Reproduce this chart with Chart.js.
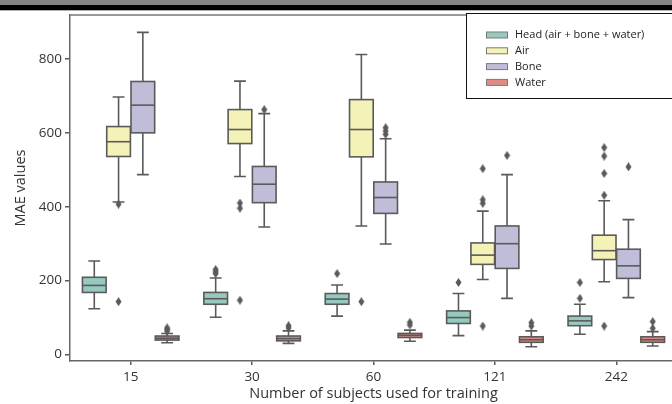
<!DOCTYPE html>
<html>
<head>
<meta charset="utf-8">
<script src="https://cdn.jsdelivr.net/npm/chart.js@4.4.0/dist/chart.umd.min.js"></script>
<style>
  html, body { margin: 0; padding: 0; background: #fff; }
  #wrap { position: relative; width: 672px; height: 404px; overflow: hidden; }
  #topbar { position: absolute; left: 0; top: 0; width: 672px; height: 5px; background: #848484; }
  #topline { position: absolute; left: 0; top: 5px; width: 672px; height: 5px; background: #000; border-bottom: 1px solid #b0b0b0; }
  canvas { position: absolute; left: 0; top: 0; }
</style>
</head>
<body>
<div id="wrap">
  <canvas id="chart" width="682" height="404"></canvas>
  <div id="topbar"></div>
  <div id="topline"></div>
</div>
<script>
// categories and series
const categories = ['15', '30', '60', '121', '242'];
const seriesNames = ['Head (air + bone + water)', 'Air', 'Bone', 'Water'];
const seriesColors = ['#96cac1', '#f4f2b6', '#c0bdd8', '#df8c84'];
const yTicks = [0, 200, 400, 600, 800];

// box stats per series: lower whisker, q1, median, q3, upper whisker
const headLo  = [124, 101, 104, 51, 55];
const headQ1  = [168, 136, 136, 84, 78];
const headMed = [187, 151, 150, 100, 91];
const headQ3  = [209, 168, 165, 118, 104];
const headHi  = [253, 207, 188, 165, 136];
const headOut = [[], [219, 224, 230], [219], [195], [152, 195]];

const airLo  = [413, 482, 348, 203, 197];
const airQ1  = [536, 571, 535, 244, 257];
const airMed = [576, 609, 609, 269, 281];
const airQ3  = [617, 663, 690, 302, 323];
const airHi  = [697, 740, 812, 388, 416];
const airOut = [[143, 407], [147, 396, 410], [143], [77, 409, 419, 503], [77, 431, 490, 537, 560]];

const boneLo  = [487, 345, 299, 152, 154];
const boneQ1  = [600, 411, 382, 233, 206];
const boneMed = [675, 461, 425, 300, 240];
const boneQ3  = [739, 509, 467, 348, 285];
const boneHi  = [872, 652, 584, 487, 365];
const boneOut = [[], [663], [596, 605, 614], [539], [508]];

const waterLo  = [32, 30, 36, 21, 23];
const waterQ1  = [39, 37, 46, 33, 33];
const waterMed = [44, 43, 52, 40, 40];
const waterQ3  = [50, 50, 57, 48, 48];
const waterHi  = [57, 64, 66, 64, 62];
const waterOut = [[63, 68, 72], [72, 78], [80, 87], [77, 86], [71, 89]];

const stats = [
  { lo: headLo, q1: headQ1, med: headMed, q3: headQ3, hi: headHi, out: headOut },
  { lo: airLo, q1: airQ1, med: airMed, q3: airQ3, hi: airHi, out: airOut },
  { lo: boneLo, q1: boneQ1, med: boneMed, q3: boneQ3, hi: boneHi, out: boneOut },
  { lo: waterLo, q1: waterQ1, med: waterMed, q3: waterQ3, hi: waterHi, out: waterOut }
];

const hueStep = 0.2;
const boxWidth = 0.195;
const edge = '#5a5a5a';

Chart.defaults.font.family = "'Open Sans', sans-serif";
Chart.defaults.color = '#333';

// thin diamond marker for fliers
const diamond = document.createElement('canvas');
diamond.width = 7; diamond.height = 9;
(function () {
  const c = diamond.getContext('2d');
  c.fillStyle = edge;
  c.beginPath();
  c.moveTo(3.5, 0); c.lineTo(6.5, 4.5); c.lineTo(3.5, 9); c.lineTo(0.5, 4.5);
  c.closePath(); c.fill();
})();

const flierData = [];
stats.forEach((s, j) => {
  s.out.forEach((vals, i) => {
    vals.forEach(v => flierData.push({ x: i + (j - 1.5) * hueStep, y: v }));
  });
});

const boxPlugin = {
  id: 'boxes',
  beforeDatasetsDraw(chart) {
    const { ctx, scales: { x, y } } = chart;
    const halfW = (x.getPixelForValue(boxWidth) - x.getPixelForValue(0)) / 2;
    ctx.save();
    ctx.lineWidth = 1.6;
    ctx.strokeStyle = edge;
    stats.forEach((s, j) => {
      categories.forEach((c, i) => {
        const cx = x.getPixelForValue(i + (j - 1.5) * hueStep);
        const pLo = y.getPixelForValue(s.lo[i]);
        const pQ1 = y.getPixelForValue(s.q1[i]);
        const pMed = y.getPixelForValue(s.med[i]);
        const pQ3 = y.getPixelForValue(s.q3[i]);
        const pHi = y.getPixelForValue(s.hi[i]);
        // whiskers
        ctx.beginPath();
        ctx.moveTo(cx, pQ1); ctx.lineTo(cx, pLo);
        ctx.moveTo(cx, pQ3); ctx.lineTo(cx, pHi);
        ctx.moveTo(cx - halfW / 2, pLo); ctx.lineTo(cx + halfW / 2, pLo);
        ctx.moveTo(cx - halfW / 2, pHi); ctx.lineTo(cx + halfW / 2, pHi);
        ctx.stroke();
        // box
        ctx.fillStyle = seriesColors[j];
        ctx.fillRect(cx - halfW, pQ3, halfW * 2, pQ1 - pQ3);
        ctx.strokeRect(cx - halfW, pQ3, halfW * 2, pQ1 - pQ3);
        // median
        ctx.beginPath();
        ctx.moveTo(cx - halfW, pMed); ctx.lineTo(cx + halfW, pMed);
        ctx.stroke();
      });
    });
    ctx.restore();
  },
  afterDraw(chart) {
    const { ctx, chartArea } = chart;
    ctx.save();
    // top spine
    ctx.strokeStyle = '#777';
    ctx.lineWidth = 1.5;
    ctx.beginPath();
    ctx.moveTo(chartArea.left, chartArea.top);
    ctx.lineTo(chartArea.right, chartArea.top);
    ctx.stroke();
    // legend box
    ctx.fillStyle = '#fff';
    ctx.fillRect(466.5, 13.5, 220, 85);
    ctx.strokeStyle = '#111';
    ctx.lineWidth = 1;
    ctx.strokeRect(466.5, 13.5, 220, 85);
    ctx.font = "11px 'Open Sans', sans-serif";
    ctx.textBaseline = 'middle';
    seriesNames.forEach((name, j) => {
      const ry = 35 + j * 15.8;
      ctx.fillStyle = seriesColors[j];
      ctx.fillRect(486.5, ry - 3, 21, 6);
      ctx.strokeStyle = '#7a7a7a';
      ctx.strokeRect(486.5, ry - 3, 21, 6);
      ctx.fillStyle = '#222';
      ctx.fillText(name, 515, ry);
    });
    ctx.restore();
  }
};

new Chart(document.getElementById('chart'), {
  type: 'scatter',
  data: {
    datasets: [{
      label: 'fliers',
      data: flierData,
      pointStyle: diamond,
      pointRadius: 4,
      pointHoverRadius: 4
    }]
  },
  options: {
    responsive: false,
    animation: false,
    events: [],
    layout: { padding: { top: 15, left: 0, right: 1, bottom: 0 } },
    plugins: {
      legend: { display: false },
      tooltip: { enabled: false }
    },
    scales: {
      x: {
        type: 'linear',
        min: -0.5,
        max: 4.5,
        afterFit: s => { s.height = 43; },
        afterBuildTicks: s => { s.ticks = categories.map((c, i) => ({ value: i })); },
        ticks: {
          callback: v => categories[Math.round(v)],
          font: { size: 13.5 },
          color: '#333',
          padding: 4
        },
        grid: { display: true, drawOnChartArea: false, drawTicks: true, tickLength: 4, color: edge, lineWidth: 1.5 },
        border: { display: true, color: '#666', width: 1.5 },
        title: {
          display: true,
          text: 'Number of subjects used for training',
          font: { size: 14.5 },
          color: '#333',
          padding: { top: 0, bottom: 1 }
        }
      },
      y: {
        min: -17.6,
        max: 919,
        afterFit: s => { s.width = 70; },
        afterBuildTicks: s => { s.ticks = yTicks.map(v => ({ value: v })); },
        ticks: { font: { size: 13.5 }, color: '#333', padding: 3 },
        grid: { display: true, drawOnChartArea: false, drawTicks: true, tickLength: 5, color: edge, lineWidth: 1.5 },
        border: { display: true, color: '#666', width: 1.5 },
        title: {
          display: true,
          text: 'MAE values',
          font: { size: 14.5 },
          color: '#333',
          padding: { top: 12, bottom: 0 }
        }
      }
    }
  },
  plugins: [boxPlugin]
});
</script>
</body>
</html>
